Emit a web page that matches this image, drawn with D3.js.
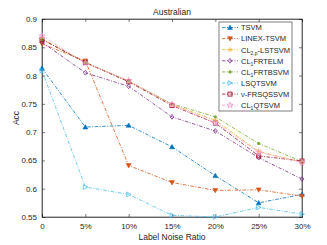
<!DOCTYPE html>
<html>
<head>
<meta charset="UTF-8">
<script src="https://cdn.jsdelivr.net/npm/d3@7"></script>
<style>
  body { margin: 0; background: #fff; }
  svg text { font-family: "Liberation Sans", Arial, sans-serif; fill: #262626; }
</style>
</head>
<body>
<svg id="chart" width="327" height="245"></svg>
<script>
// data
let noise = ["0", "5%", "10%", "15%", "20%", "25%", "30%"]
let yTicks = [0.55, 0.6, 0.65, 0.7, 0.75, 0.8, 0.85, 0.9]

let tsvm      = [0.813, 0.709, 0.712, 0.674, 0.623, 0.575, 0.590]
let linex     = [0.856, 0.826, 0.641, 0.611, 0.597, 0.598, 0.587]
let cl2p      = [0.865, 0.823, 0.790, 0.749, 0.721, 0.666, 0.647]
let frtelm    = [0.859, 0.805, 0.781, 0.727, 0.702, 0.655, 0.617]
let frtbsvm   = [0.864, 0.823, 0.790, 0.750, 0.727, 0.680, 0.648]
let lsqtsvm   = [0.809, 0.603, 0.590, 0.553, 0.550, 0.567, 0.555]
let frsqssvm  = [0.864, 0.823, 0.789, 0.747, 0.716, 0.658, 0.649]
let cl1qtsvm  = [0.870, 0.822, 0.791, 0.749, 0.717, 0.665, 0.646]

let series = [
  {name: [["TSVM"]], vals: tsvm, color: "#0072BD", marker: "up"},
  {name: [["LINEX-TSVM"]], vals: linex, color: "#D95319", marker: "down"},
  {name: [["CL"], ["2,p", 1], ["-LSTSVM"]], vals: cl2p, color: "#EDB120", marker: "star"},
  {name: [["CL"], ["1", 1], ["FRTELM"]], vals: frtelm, color: "#7E2F8E", marker: "diamond"},
  {name: [["CL"], ["1", 1], ["FRTBSVM"]], vals: frtbsvm, color: "#77AC30", marker: "dot"},
  {name: [["LSQTSVM"]], vals: lsqtsvm, color: "#4DBEEE", marker: "right"},
  {name: [["ν-FRSQSSVM"]], vals: frsqssvm, color: "#A2142F", marker: "square"},
  {name: [["CL"], ["1", 1], ["QTSVM"]], vals: cl1qtsvm, color: "#FF9ECF", marker: "hex"}
]

let svg = d3.select("#chart")
let L = 42, R = 302, T = 19, B = 217

let x = d3.scalePoint().domain(noise).range([L, R])
let y = d3.scaleLinear().domain([0.55, 0.9]).range([B, T])

// axes box
svg.append("rect").attr("x", L).attr("y", T).attr("width", R - L).attr("height", B - T)
  .attr("fill", "#fff").attr("stroke", "#262626").attr("stroke-width", 0.6)

let fmtY = d => d3.format("")(+d.toFixed(2))
let gx = svg.append("g").attr("transform", `translate(0,${B})`)
  .call(d3.axisBottom(x).tickSize(-3).tickPadding(6))
let gy = svg.append("g").attr("transform", `translate(${L},0)`)
  .call(d3.axisLeft(y).tickValues(yTicks).tickFormat(fmtY).tickSize(-3).tickPadding(5))
let gxt = svg.append("g").attr("transform", `translate(0,${T})`)
  .call(d3.axisTop(x).tickSize(-3).tickFormat(""))
let gyr = svg.append("g").attr("transform", `translate(${R},0)`)
  .call(d3.axisRight(y).tickValues(yTicks).tickSize(-3).tickFormat(""))
;[gx, gy, gxt, gyr].forEach(g => {
  g.select(".domain").attr("stroke", "#262626").attr("stroke-width", 0.6)
  g.selectAll(".tick line").attr("stroke", "#262626").attr("stroke-width", 0.6)
  g.selectAll(".tick text").attr("font-size", 8).attr("fill", "#262626")
})

// labels
svg.append("text").attr("x", (L + R) / 2).attr("y", 15).attr("text-anchor", "middle")
  .attr("font-size", 8.5).text("Australian")
svg.append("text").attr("x", (L + R) / 2).attr("y", 240).attr("text-anchor", "middle")
  .attr("font-size", 8.5).text("Label Noise Ratio")
svg.append("text").attr("transform", `translate(19,${(T + B) / 2}) rotate(-90)`)
  .attr("text-anchor", "middle").attr("font-size", 8.5).text("Acc")

function drawMarker(g, type, cx, cy, color) {
  let s = 2.4
  if (type === "up") {
    g.append("path").attr("d", `M${cx},${cy - s}L${cx + s},${cy + s * 0.8}L${cx - s},${cy + s * 0.8}Z`)
      .attr("fill", color).attr("stroke", color).attr("stroke-width", 0.6)
  } else if (type === "down") {
    g.append("path").attr("d", `M${cx},${cy + s}L${cx + s},${cy - s * 0.8}L${cx - s},${cy - s * 0.8}Z`)
      .attr("fill", color).attr("stroke", color).attr("stroke-width", 0.6)
  } else if (type === "right") {
    g.append("path").attr("d", `M${cx + s},${cy}L${cx - s * 0.8},${cy - s}L${cx - s * 0.8},${cy + s}Z`)
      .attr("fill", "none").attr("stroke", color).attr("stroke-width", 0.8)
  } else if (type === "diamond") {
    g.append("path").attr("d", `M${cx},${cy - s}L${cx + s * 0.8},${cy}L${cx},${cy + s}L${cx - s * 0.8},${cy}Z`)
      .attr("fill", "none").attr("stroke", color).attr("stroke-width", 0.8)
  } else if (type === "square") {
    g.append("rect").attr("x", cx - 2).attr("y", cy - 2).attr("width", 4).attr("height", 4)
      .attr("fill", "none").attr("stroke", color).attr("stroke-width", 0.9)
  } else if (type === "dot") {
    g.append("circle").attr("cx", cx).attr("cy", cy).attr("r", 1.6).attr("fill", color)
  } else if (type === "star") {
    g.append("path").attr("d", `M${cx - s},${cy}L${cx + s},${cy}M${cx},${cy - s}L${cx},${cy + s}M${cx - 1.7},${cy - 1.7}L${cx + 1.7},${cy + 1.7}M${cx - 1.7},${cy + 1.7}L${cx + 1.7},${cy - 1.7}`)
      .attr("stroke", color).attr("stroke-width", 0.6)
  } else if (type === "hex") {
    g.append("path").attr("d", d3.symbol().type(d3.symbolStar).size(12)())
      .attr("transform", `translate(${cx},${cy})`)
      .attr("fill", "none").attr("stroke", color).attr("stroke-width", 0.8)
  }
}

let line = d3.line().x((d, i) => x(noise[i])).y(d => y(d))
let dash = "3.5,1.5,1,1.5"

series.forEach(s => {
  let g = svg.append("g")
  g.append("path").datum(s.vals).attr("d", line)
    .attr("fill", "none").attr("stroke", s.color).attr("stroke-width", 0.8)
    .attr("stroke-dasharray", dash)
  s.vals.forEach((v, i) => drawMarker(g, s.marker, x(noise[i]), y(v), s.color))
})

// legend
let lg = svg.append("g")
lg.append("rect").attr("x", 219).attr("y", 22).attr("width", 73).attr("height", 89)
  .attr("fill", "#fff").attr("stroke", "#262626").attr("stroke-width", 0.6)
series.forEach((s, i) => {
  let ly = 27.5 + i * 11.1
  lg.append("line").attr("x1", 222).attr("x2", 238).attr("y1", ly).attr("y2", ly)
    .attr("stroke", s.color).attr("stroke-width", 0.8).attr("stroke-dasharray", dash)
  drawMarker(lg, s.marker, 230, ly, s.color)
  let t = lg.append("text").attr("x", 241).attr("y", ly + 2.8).attr("font-size", 7.5)
  s.name.forEach(part => {
    let ts = t.append("tspan").text(part[0])
    if (part[1]) ts.attr("font-size", 5).attr("dy", 2)
    else if (t.selectAll("tspan").size() > 1) ts.attr("dy", -2)
  })
})
</script>
</body>
</html>
